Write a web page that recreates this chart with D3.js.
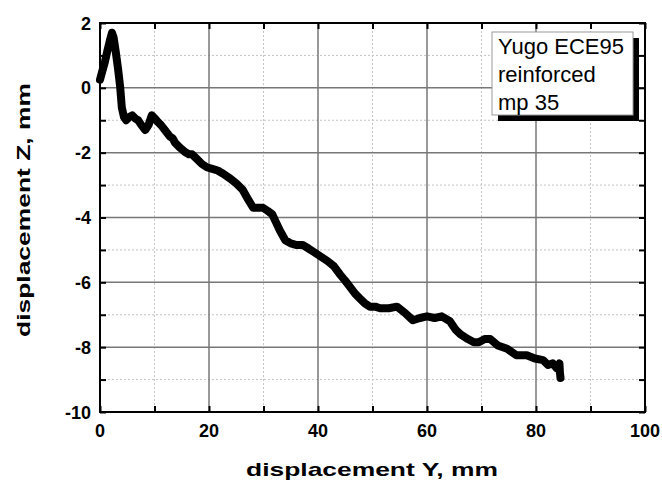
<!DOCTYPE html>
<meta charset="utf-8">
<style>
    body { margin: 0; background: #fff; }
    text { font-family: "Liberation Sans", Arial, sans-serif; }
    .tick-label { font-size: 18px; font-weight: bold; }
    .title { font-size: 19px; font-weight: bold; }
    .legend { font-size: 22px; }
</style>
<body>
<script src="https://cdn.jsdelivr.net/npm/d3@7"></script>
<script>

    var width = 662,
        height = 480;

    // displacement Y (mm) and displacement Z (mm)
    var dispY = [0, 0.4, 0.9, 1.3, 1.8, 2.2, 2.5, 2.9, 3.3, 3.7, 4.0, 4.4, 4.8, 5.4, 5.9, 6.5,
        7.0, 7.6, 8.3, 8.9, 9.5, 10.1, 10.6, 11.2, 11.9, 12.8, 13.3, 13.8, 14.7, 15.6, 16.3, 16.9,
        17.8, 18.7, 19.6, 20.6, 21.6, 22.6, 23.9, 25.0, 26.2, 27.2, 28.1, 29.0, 29.9, 30.8,
        31.6, 32.3, 33.0, 34.0, 35.0, 36.1, 37.2, 38.2, 39.1, 40.0, 40.9, 41.8, 42.9, 44.0,
        45.0, 45.9, 46.8, 47.7, 48.6, 49.5, 50.5, 51.4, 53.0, 54.5, 56.0, 57.4, 58.7, 60.0,
        61.4, 62.7, 64.2, 65.2, 66.1, 67.5, 68.6, 69.5, 70.6, 71.6, 73.0, 74.7, 76.4, 78.3,
        79.8, 81.3, 82.2, 83.1, 83.8, 84.3, 84.4, 84.5];
    var dispZ = [0.25, 0.5, 0.8, 1.1, 1.45, 1.7, 1.55, 1.1, 0.6, 0.03, -0.6, -0.9, -1.0, -0.9,
        -0.85, -0.95, -1.0, -1.15, -1.3, -1.15, -0.85, -0.95, -1.05, -1.15, -1.3, -1.5, -1.55, -1.7,
        -1.85, -1.98, -2.05, -2.05, -2.2, -2.35, -2.45, -2.5, -2.55, -2.65, -2.8, -2.95, -3.15,
        -3.45, -3.7, -3.7, -3.7, -3.8, -3.9, -4.15, -4.4, -4.7, -4.8, -4.85, -4.85, -4.95, -5.05,
        -5.15, -5.25, -5.35, -5.5, -5.75, -5.95, -6.15, -6.35, -6.5, -6.65, -6.75, -6.75, -6.8,
        -6.8, -6.75, -6.95, -7.17, -7.1, -7.05, -7.1, -7.05, -7.2, -7.45, -7.6, -7.75, -7.85,
        -7.85, -7.75, -7.75, -7.95, -8.05, -8.25, -8.25, -8.35, -8.4, -8.55, -8.5, -8.65, -8.5,
        -8.8, -8.95];

    var xMajor = [0, 20, 40, 60, 80, 100],
        xMinor = [10, 30, 50, 70, 90],
        yMajor = [2, 0, -2, -4, -6, -8, -10],
        yMinor = [1, -1, -3, -5, -7, -9];

    var legendLines = ["Yugo ECE95", "reinforced", "mp 35"];

    var pLeft = 100, pRight = 645, pTop = 23, pBottom = 412;

    var x = d3.scaleLinear().domain([0, 100]).range([pLeft, pRight]);
    var y = d3.scaleLinear().domain([-10, 2]).range([pBottom, pTop]);

    var svg = d3.select("body").append("svg")
        .attr("width", width)
        .attr("height", height);

    // minor grid (dotted)
    svg.append("g").selectAll("line")
        .data(xMinor)
        .enter().append("line")
        .attr("x1", x).attr("x2", x)
        .attr("y1", pTop).attr("y2", pBottom)
        .attr("stroke", "#c4c4c4").attr("stroke-dasharray", "2,2");
    svg.append("g").selectAll("line")
        .data(yMinor)
        .enter().append("line")
        .attr("y1", y).attr("y2", y)
        .attr("x1", pLeft).attr("x2", pRight)
        .attr("stroke", "#c4c4c4").attr("stroke-dasharray", "2,2");

    // major grid
    svg.append("g").selectAll("line")
        .data(xMajor)
        .enter().append("line")
        .attr("x1", x).attr("x2", x)
        .attr("y1", pTop).attr("y2", pBottom)
        .attr("stroke", "#777").attr("stroke-width", 1.5);
    svg.append("g").selectAll("line")
        .data(yMajor)
        .enter().append("line")
        .attr("y1", y).attr("y2", y)
        .attr("x1", pLeft).attr("x2", pRight)
        .attr("stroke", "#777").attr("stroke-width", 1.5);

    // axes with inward ticks on all sides
    var xTicks = xMajor.concat(xMinor),
        yTicks = yMajor.concat(yMinor);

    function styleAxis(g) {
        g.select(".domain").remove();
        g.selectAll(".tick line").attr("stroke", "#000").attr("stroke-width", 2);
        g.selectAll(".tick text").remove();
    }

    svg.append("g").attr("transform", "translate(0," + pBottom + ")")
        .call(d3.axisBottom(x).tickValues(xTicks).tickSizeInner(-6).tickSizeOuter(0))
        .call(styleAxis);
    svg.append("g").attr("transform", "translate(0," + pTop + ")")
        .call(d3.axisTop(x).tickValues(xTicks).tickSizeInner(-6).tickSizeOuter(0))
        .call(styleAxis);
    svg.append("g").attr("transform", "translate(" + pLeft + ",0)")
        .call(d3.axisLeft(y).tickValues(yTicks).tickSizeInner(-6).tickSizeOuter(0))
        .call(styleAxis);
    svg.append("g").attr("transform", "translate(" + pRight + ",0)")
        .call(d3.axisRight(y).tickValues(yTicks).tickSizeInner(-6).tickSizeOuter(0))
        .call(styleAxis);

    // frame
    svg.append("rect")
        .attr("x", pLeft).attr("y", pTop)
        .attr("width", pRight - pLeft).attr("height", pBottom - pTop)
        .attr("fill", "none").attr("stroke", "#000").attr("stroke-width", 2);

    // tick labels
    svg.append("g").selectAll("text")
        .data(xMajor)
        .enter().append("text")
        .attr("class", "tick-label")
        .attr("x", x).attr("y", 437)
        .attr("text-anchor", "middle")
        .text(function(d) { return d; });
    svg.append("g").selectAll("text")
        .data(yMajor)
        .enter().append("text")
        .attr("class", "tick-label")
        .attr("x", 91).attr("y", function(d) { return y(d) + 6.5; })
        .attr("text-anchor", "end")
        .text(function(d) { return d; });

    // axis titles
    svg.append("text")
        .attr("class", "title")
        .attr("x", 372).attr("y", 476)
        .attr("text-anchor", "middle")
        .attr("textLength", 252).attr("lengthAdjust", "spacingAndGlyphs")
        .text("displacement Y,  mm");
    svg.append("text")
        .attr("class", "title")
        .attr("transform", "translate(30,210) rotate(-90)")
        .attr("text-anchor", "middle")
        .attr("textLength", 254).attr("lengthAdjust", "spacingAndGlyphs")
        .text("displacement Z,  mm");

    // data line
    var line = d3.line()
        .x(function(d) { return x(d[0]); })
        .y(function(d) { return y(d[1]); });

    svg.append("path")
        .datum(d3.zip(dispY, dispZ))
        .attr("d", line)
        .attr("fill", "none")
        .attr("stroke", "#000")
        .attr("stroke-width", 8)
        .attr("stroke-linejoin", "round")
        .attr("stroke-linecap", "round");

    // legend box with shadow
    var lg = svg.append("g");
    lg.append("rect")
        .attr("x", 498).attr("y", 38)
        .attr("width", 141).attr("height", 83)
        .attr("fill", "#000");
    lg.append("rect")
        .attr("x", 492).attr("y", 32)
        .attr("width", 141).attr("height", 83)
        .attr("fill", "#fff").attr("stroke", "#999").attr("stroke-width", 1);
    lg.selectAll("text")
        .data(legendLines)
        .enter().append("text")
        .attr("class", "legend")
        .attr("x", 498)
        .attr("y", function(d, i) { return 54 + i * 28; })
        .text(function(d) { return d; });

</script>
</body>
